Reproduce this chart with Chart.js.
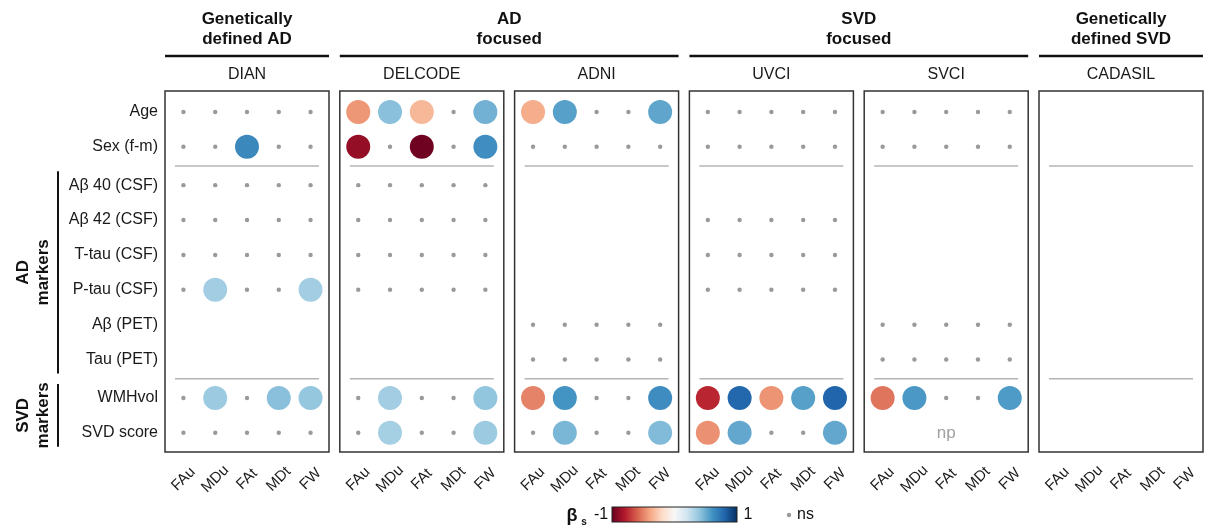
<!DOCTYPE html>
<html>
<head>
<meta charset="utf-8">
<script src="https://cdn.jsdelivr.net/npm/chart.js@4.4.1/dist/chart.umd.min.js"></script>
<style>
  html, body { margin: 0; padding: 0; background: #fff; overflow: hidden; }
  #wrap { width: 1215px; height: 528px; position: relative; }
</style>
</head>
<body>
<div id="wrap"><canvas id="chart"></canvas></div>
<script>
/* ── Data ── */
const measures  = ['FAu', 'MDu', 'FAt', 'MDt', 'FW'];
const rowLabels = ['Age', 'Sex (f-m)', 'Aβ 40 (CSF)', 'Aβ 42 (CSF)', 'T-tau (CSF)', 'P-tau (CSF)',
                   'Aβ (PET)', 'Tau (PET)', 'WMHvol', 'SVD score'];
const rowGroup  = [0, 0, 1, 1, 1, 1, 1, 1, 2, 2];
const rowGroupNames = [null, ['AD', 'markers'], ['SVD', 'markers']];

const cohorts      = ['DIAN', 'DELCODE', 'ADNI', 'UVCI', 'SVCI', 'CADASIL'];
const studyGroups  = [['Genetically', 'defined AD'], ['AD', 'focused'], ['SVD', 'focused'], ['Genetically', 'defined SVD']];
const studyCohorts = [[0, 0], [1, 2], [3, 4], [5, 5]];

// beta_s per cell; ns = not significant, _ = not available, np = not possible
const _ = null, ns = 'ns', np = 'np';
const allNs = [ns, ns, ns, ns, ns];

const dian = [
  allNs,
  [ns, ns, 0.65, ns, ns],
  allNs, allNs, allNs,
  [ns, 0.35, ns, ns, 0.35],
  _, _,
  [ns, 0.37, ns, 0.42, 0.39],
  allNs
];
const delcode = [
  [-0.44, 0.42, -0.33, ns, 0.48],
  [-0.88, ns, -0.98, ns, 0.62],
  allNs, allNs, allNs, allNs,
  _, _,
  [ns, 0.35, ns, ns, 0.40],
  [ns, 0.34, ns, ns, 0.37]
];
const adni = [
  [-0.37, 0.55, ns, ns, 0.53],
  allNs,
  _, _, _, _,
  allNs, allNs,
  [-0.50, 0.60, ns, ns, 0.63],
  [ns, 0.46, ns, ns, 0.44]
];
const uvci = [
  allNs, allNs,
  _,
  allNs, allNs, allNs,
  _, _,
  [-0.76, 0.79, -0.45, 0.55, 0.80],
  [-0.46, 0.52, ns, ns, 0.52]
];
const svci = [
  allNs, allNs,
  _, _, _, _,
  allNs, allNs,
  [-0.54, 0.58, ns, ns, 0.57],
  np
];
const cadasil = [_, _, _, _, _, _, _, _, _, _];
const cohortData = [dian, delcode, adni, uvci, svci, cadasil];

// RdBu, from -1 to 1
const rdbu = ['#67001f', '#b2182b', '#d6604d', '#f4a582', '#fddbc7', '#f7f7f7',
              '#d1e5f0', '#92c5de', '#4393c3', '#2166ac', '#053061'];

/* ── Layout helpers ── */
const FONT  = "'Liberation Sans', Arial, Helvetica, sans-serif";
const PITCH = 5.5;   // x units between panel starts
const EDGE  = 0.58;  // panel padding around first/last column
const rowPos = i => i + 0.1 * rowGroup[i];

function hex(c) { return [1, 3, 5].map(k => parseInt(c.slice(k, k + 2), 16)); }
function betaColor(b) {
  const t = Math.max(0, Math.min(10, (b + 1) * 5));
  const i = Math.min(9, Math.floor(t)), f = t - i;
  const a = hex(rdbu[i]), c = hex(rdbu[i + 1]);
  return `rgb(${a.map((v, k) => Math.round(v + (c[k] - v) * f)).join(',')})`;
}

const points = [];
cohortData.forEach((rows, p) => rows.forEach((row, i) => {
  if (!Array.isArray(row)) return;
  row.forEach((b, c) => { if (b !== null) points.push({ x: p * PITCH + c, y: rowPos(i), b }); });
}));

/* ── Decorations: panels, titles, brackets, legend ── */
const decor = {
  id: 'decor',
  beforeDatasetsDraw(chart) {
    const { ctx, chartArea: a, scales: { x, y } } = chart;
    const breaks = [];
    for (let i = 1; i < rowGroup.length; i++)
      if (rowGroup[i] !== rowGroup[i - 1]) breaks.push((rowPos(i - 1) + rowPos(i)) / 2);

    ctx.save();
    cohorts.forEach((name, p) => {
      const l = x.getPixelForValue(p * PITCH - EDGE);
      const r = x.getPixelForValue(p * PITCH + measures.length - 1 + EDGE);
      ctx.strokeStyle = '#333'; ctx.lineWidth = 1.5;
      ctx.strokeRect(l, a.top, r - l, a.bottom - a.top);
      ctx.strokeStyle = '#b4b4b4'; ctx.lineWidth = 1.5;
      breaks.forEach(v => {
        const py = y.getPixelForValue(v);
        ctx.beginPath(); ctx.moveTo(l + 10, py); ctx.lineTo(r - 10, py); ctx.stroke();
      });
    });
    ctx.restore();
  },
  afterDraw(chart) {
    const { ctx, chartArea: a, scales: { x, y } } = chart;
    ctx.save();
    ctx.textAlign = 'center'; ctx.textBaseline = 'middle';

    // cohort names + x labels
    cohorts.forEach((name, p) => {
      const cx = x.getPixelForValue(p * PITCH + (measures.length - 1) / 2);
      ctx.fillStyle = '#1a1a1a'; ctx.font = `16px ${FONT}`;
      ctx.fillText(name, cx, a.top - 16);
      ctx.font = `15px ${FONT}`;
      measures.forEach((m, c) => {
        ctx.save();
        ctx.translate(x.getPixelForValue(p * PITCH + c), a.bottom + 27);
        ctx.rotate(-Math.PI / 4);
        ctx.fillText(m, 0, 0);
        ctx.restore();
      });
      // not possible rows
      cohortData[p].forEach((row, i) => {
        if (row !== np) return;
        ctx.fillStyle = '#a0a0a0'; ctx.font = `17px ${FONT}`;
        ctx.fillText('np', cx, y.getPixelForValue(rowPos(i)));
      });
    });

    // study group headers
    studyGroups.forEach((lines, g) => {
      const [p0, p1] = studyCohorts[g];
      const l = x.getPixelForValue(p0 * PITCH - EDGE);
      const r = x.getPixelForValue(p1 * PITCH + measures.length - 1 + EDGE);
      ctx.strokeStyle = '#111'; ctx.lineWidth = 2.5;
      ctx.beginPath(); ctx.moveTo(l, a.top - 35); ctx.lineTo(r, a.top - 35); ctx.stroke();
      ctx.fillStyle = '#111'; ctx.font = `bold 17px ${FONT}`;
      lines.forEach((t, k) => ctx.fillText(t, (l + r) / 2, a.top - 72 + k * 20));
    });

    // row group brackets on the left
    rowGroupNames.forEach((lines, g) => {
      if (!lines) return;
      const idx = rowGroup.map((v, i) => v === g ? i : -1).filter(i => i >= 0);
      const t = y.getPixelForValue(rowPos(idx[0]) - 0.4);
      const b = y.getPixelForValue(rowPos(idx[idx.length - 1]) + 0.4);
      ctx.strokeStyle = '#111'; ctx.lineWidth = 2;
      ctx.beginPath(); ctx.moveTo(58, t); ctx.lineTo(58, b); ctx.stroke();
      ctx.fillStyle = '#111'; ctx.font = `bold 17px ${FONT}`;
      lines.forEach((s, k) => {
        ctx.save();
        ctx.translate(23 + k * 20, (t + b) / 2);
        ctx.rotate(-Math.PI / 2);
        ctx.fillText(s, 0, 0);
        ctx.restore();
      });
    });

    // colour legend
    const ly = 514, bx0 = 612, bx1 = 737;
    const grad = ctx.createLinearGradient(bx0, 0, bx1, 0);
    rdbu.forEach((c, k) => grad.addColorStop(k / (rdbu.length - 1), c));
    ctx.fillStyle = grad;
    ctx.fillRect(bx0, ly - 7, bx1 - bx0, 15);
    ctx.strokeStyle = '#222'; ctx.lineWidth = 1;
    ctx.strokeRect(bx0, ly - 7, bx1 - bx0, 15);
    ctx.fillStyle = '#111';
    ctx.font = `bold 18px ${FONT}`; ctx.fillText('β', 572, ly + 2);
    ctx.font = `bold 10px ${FONT}`; ctx.fillText('s', 584, ly + 8);
    ctx.font = `16px ${FONT}`;
    ctx.fillText('-1', 601, ly + 1);
    ctx.fillText('1', 748, ly + 1);
    ctx.fillStyle = '#9a9a9a';
    ctx.beginPath(); ctx.arc(789, ly + 1, 2.2, 0, Math.PI * 2); ctx.fill();
    ctx.fillStyle = '#111'; ctx.textAlign = 'left';
    ctx.fillText('ns', 797, ly + 1);
    ctx.restore();
  }
};

/* ── Chart ── */
new Chart(document.getElementById('chart'), {
  type: 'scatter',
  data: {
    datasets: [{
      data: points,
      pointRadius: ctx => ctx.raw && ctx.raw.b === ns ? 2.2 : 12,
      backgroundColor: ctx => ctx.raw && ctx.raw.b === ns ? '#9a9a9a' : betaColor(ctx.raw ? ctx.raw.b : 0),
      borderWidth: 0
    }]
  },
  options: {
    responsive: true,
    maintainAspectRatio: false,
    animation: false,
    events: [],
    layout: { padding: { top: 91, right: 2, bottom: 76, left: 0 } },
    plugins: { legend: { display: false }, tooltip: { enabled: false } },
    scales: {
      x: {
        type: 'linear', display: false,
        min: -EDGE, max: (cohorts.length - 1) * PITCH + measures.length - 1 + EDGE
      },
      y: {
        type: 'linear', reverse: true,
        min: -0.6, max: 9.75,
        grid: { display: false, tickLength: 7 },
        border: { display: false },
        afterBuildTicks: s => { s.ticks = rowLabels.map((l, i) => ({ value: rowPos(i) })); },
        afterFit: s => { s.width = 165; },
        ticks: {
          autoSkip: false, padding: 0, color: '#1a1a1a',
          font: { family: FONT, size: 16 },
          callback: (v, i) => rowLabels[i]
        }
      }
    }
  },
  plugins: [decor]
});
</script>
</body>
</html>
